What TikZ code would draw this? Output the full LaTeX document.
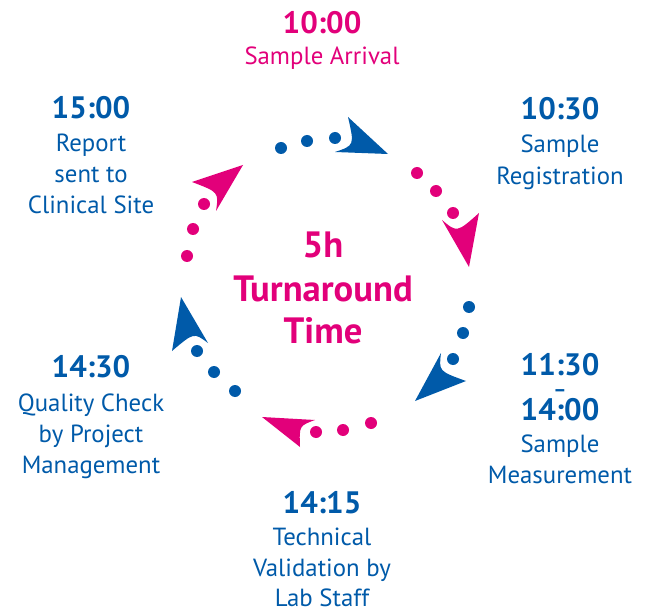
\documentclass[tikz,border=0pt]{standalone}
\usepackage{fontspec}
\setmainfont{PT Sans}
\definecolor{pk}{HTML}{E2007A}
\definecolor{bl}{HTML}{005AA9}
\begin{document}
\begin{tikzpicture}[x=1pt,y=-1pt,
  dot/.style={circle, fill, inner sep=0pt, minimum size=12pt},
  tm/.style={anchor=base, inner sep=0pt, font=\bfseries\fontsize{31}{31}\selectfont},
  lab/.style={anchor=base, inner sep=0pt, font=\fontsize{24.8}{31}\selectfont},
  ctr/.style={anchor=base, inner sep=0pt, text=pk, font=\bfseries\fontsize{36.6}{42}\selectfont}]
\useasboundingbox (0,0) rectangle (650,612);

% ---- group 1: top, blue
\node[dot,bl] (d11) at (281,148) {};
\node[dot,bl] (d12) at (307,141) {};
\node[dot,bl] (d13) at (335,138) {};
\fill[bl] (388,154) coordinate (h1) -- (348,117) .. controls (354.5,145.4) .. (335,152) -- cycle;

% ---- group 2: right top, pink
\node[dot,pk] (d21) at (417,173) {};
\node[dot,pk] (d22) at (436,191) {};
\node[dot,pk] (d23) at (453,213) {};
\fill[pk] (469,267) coordinate (h2) -- (479,213) .. controls (457,232.6) .. (442,220) -- cycle;

% ---- group 3: right bottom, blue
\node[dot,bl] (d31) at (469,307) {};
\node[dot,bl] (d32) at (463,333) {};
\node[dot,bl] (d33) at (453,359) {};
\fill[bl] (415,401) coordinate (h3) -- (466,381) .. controls (438.8,371.2) .. (441,353) -- cycle;

% ---- group 4: bottom, pink
\node[dot,pk] (d41) at (371,423) {};
\node[dot,pk] (d42) at (343,430) {};
\node[dot,pk] (d43) at (316,432) {};
\fill[pk] (262,417) coordinate (h4) -- (300,447) .. controls (299.2,425.8) .. (315,420) -- cycle;

% ---- group 5: bottom left, blue
\node[dot,bl] (d51) at (235,391) {};
\node[dot,bl] (d52) at (214,372) {};
\node[dot,bl] (d53) at (197,351) {};
\fill[bl] (181,297) coordinate (h5) -- (172,351) .. controls (193.9,332.4) .. (208,343) -- cycle;

% ---- group 6: top left, pink
\node[dot,pk] (d61) at (187,256) {};
\node[dot,pk] (d62) at (193,229) {};
\node[dot,pk] (d63) at (204,204) {};
\fill[pk] (243,165) coordinate (h6) -- (216,211) .. controls (218.8,192.2) .. (192,182) -- cycle;

% ---- center
\node[ctr] (c1) at (323,258) {5h};
\node[ctr] (c2) at (323,301) {Turnaround};
\node[ctr] (c3) at (323,343) {Time};

% ---- labels
\node[tm,text=pk] (t1) at (322,34) {10:00};
\node[lab,text=pk] (l1) at (322,65) {Sample Arrival};

\node[tm,text=bl] (t2) at (560,120) {10:30};
\node[lab,text=bl] (l2a) at (560,153) {Sample};
\node[lab,text=bl] (l2b) at (560,185) {Registration};

\node[tm,text=bl] (t3a) at (560,375) {11:30};
\node[anchor=base, inner sep=0pt, text=bl, font=\bfseries\fontsize{20}{20}\selectfont] (t3d) at (560,396) {–};
\node[tm,text=bl] (t3b) at (560,420) {14:00};
\node[lab,text=bl] (l3a) at (560,452) {Sample};
\node[lab,text=bl] (l3b) at (560,483) {Measurement};

\node[tm,text=bl] (t4) at (322,513) {14:15};
\node[lab,text=bl] (l4a) at (322,545) {Technical};
\node[lab,text=bl] (l4b) at (322,576) {Validation by};
\node[lab,text=bl] (l4c) at (322,606) {Lab Staff};

\node[tm,text=bl] (t5) at (91,377) {14:30};
\node[lab,text=bl] (l5a) at (91,411) {Quality Check};
\node[lab,text=bl] (l5b) at (91,442) {by Project};
\node[lab,text=bl] (l5c) at (91,473) {Management};

\node[tm,text=bl] (t6) at (91,119) {15:00};
\node[lab,text=bl] (l6a) at (91,152) {Report};
\node[lab,text=bl] (l6b) at (91,183) {sent to};
\node[lab,text=bl] (l6c) at (91,214) {Clinical Site};
\end{tikzpicture}
\end{document}
